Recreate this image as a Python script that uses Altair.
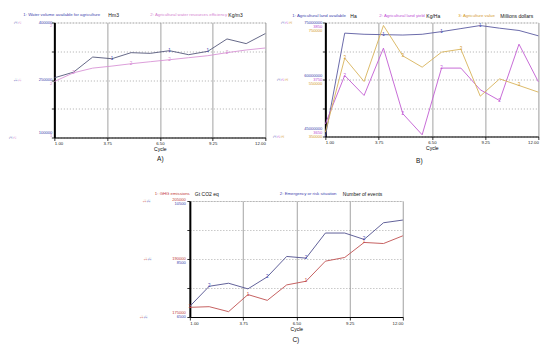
import altair as alt
import pandas as pd

FONT = "Liberation Sans"

cycles = list(range(1, 13))
x_ticks = [1, 3.75, 6.5, 9.25, 12]

# Panel A
water_volume = [255700, 270500, 309900, 305500, 321300, 319500, 326500, 316000, 324800, 357100, 344900, 371100]
water_efficiency = [246000, 268800, 281000, 286300, 292400, 297700, 302900, 308200, 313400, 321300, 328300, 333500]
a_labels_1 = ["400000", "250000", "100000"]
a_labels_2 = ["2", "2", "1"]

# Panel B
land_available = [45.0e6, 72.2e6, 71.9e6, 71.8e6, 71.7e6, 71.9e6, 72.6e6, 73.4e6, 74.2e6, 73.5e6, 72.9e6, 71.5e6]
land_yield = [3672, 3757, 3722, 3805, 3690, 3653, 3770, 3770, 3732, 3713, 3812, 3746]
agri_value = [365000, 624900, 543000, 739500, 633000, 593300, 645900, 656400, 491500, 552300, 529000, 505600]
b_labels_1 = ["75000000", "60000000", "45000000"]
b_labels_2 = ["3850", "3750", "3650"]
b_labels_3 = ["750000", "550000", "350000"]

# Panel C
ghg = [177500, 177670, 176380, 180800, 179300, 183300, 184250, 189440, 190400, 194280, 194000, 196000]
emergency = [6869, 7560, 7664, 7470, 7885, 8588, 8530, 9395, 9395, 9175, 9750, 9843]
c_labels_1 = ["205000", "190000", "175000"]
c_labels_2 = ["10500", "8500", "6500"]

BLUE_T = "#3b3fae"
PINK_T = "#d47fcf"
MAG_T = "#c04fd6"
ORG_T = "#d49a2e"
RED_T = "#c23a3a"
BLACK_T = "#111111"


def x_axis():
    return alt.Axis(values=x_ticks, format=".2f", title="Cycle", labelFontSize=4.3,
                    labelPadding=1, titleFontSize=5, titleFontWeight="normal",
                    titlePadding=1, domainColor="black", domainWidth=1,
                    tickColor="black", tickSize=3, tickWidth=0.8, grid=True,
                    gridColor="#b8b8b8", gridWidth=1.3, labelColor="#222",
                    labelFont=FONT, titleFont=FONT)


def make_panel(series, w, h, label_x, far_x, offsets, legend, legend_y, title, title_x, title_y):
    layers = []
    for k, s in enumerate(series):
        df = pd.DataFrame({"cycle": cycles, "value": s["values"]})
        d0, d1 = s["domain"]
        yscale = alt.Scale(domain=[d0, d1], nice=False, zero=False)
        if k == 0:
            yaxis = alt.Axis(values=[d0 + i * (d1 - d0) / 4 for i in range(5)], labels=False,
                             title=None, domainColor="black", domainWidth=2,
                             tickColor="black", tickSize=3, tickWidth=0.8, grid=True,
                             gridColor="#8a8a8a", gridDash=[1, 2], gridWidth=0.7)
        else:
            yaxis = None
        xenc = alt.X("cycle:Q", scale=alt.Scale(domain=[1, 12], nice=False), axis=x_axis())
        yenc = alt.Y("value:Q", scale=yscale, axis=yaxis)
        sub = [alt.Chart(df).mark_line(color=s["line"], strokeWidth=0.9).encode(x=xenc, y=yenc)]
        mk = df[df["cycle"].isin(s["markers"])]
        sub.append(alt.Chart(mk).mark_text(text=str(k + 1), fontSize=4.5, color=s["label"],
                                           font=FONT).encode(x=xenc, y=yenc))
        levels = [d1, (d0 + d1) / 2, d0]
        for i, lv in enumerate(levels):
            ldf = pd.DataFrame({"value": [lv], "text": [s["labels"][i]]})
            off = offsets[i][k]
            sub.append(alt.Chart(ldf).mark_text(align="right", baseline="middle", dy=off,
                                                fontSize=4.1, color=s["label"], font=FONT)
                       .encode(x=alt.value(label_x), y=yenc, text="text:N"))
            sub.append(alt.Chart(ldf).mark_text(align="center", baseline="middle", dy=off,
                                                angle=270, fontSize=3.6, color=s["label"],
                                                font=FONT)
                       .encode(x=alt.value(far_x), y=yenc, text=alt.value(f"{k + 1}:")))
        layers.append(alt.layer(*sub))
    one = pd.DataFrame({"k": [0]})
    texts = []
    for (lx, txt, col, fs) in legend:
        texts.append(alt.Chart(one).mark_text(align="left", baseline="middle", fontSize=fs,
                                              color=col, font=FONT)
                     .encode(x=alt.value(lx), y=alt.value(legend_y), text=alt.value(txt)))
    texts.append(alt.Chart(one).mark_text(align="center", baseline="middle", fontSize=6.5,
                                          color="#111", font=FONT)
                 .encode(x=alt.value(title_x), y=alt.value(title_y), text=alt.value(title)))
    return alt.layer(*layers, *texts).resolve_scale(y="independent").properties(width=w, height=h)


NS = 4.3  # series name font size
US = 5.0  # unit font size

legA = [(-31, "1: Water volume available for agriculture", BLUE_T, NS), (54, "Hm3", BLACK_T, US),
        (96, "2: Agricultural water resources efficiency", PINK_T, NS), (174, "Kg/m3", BLACK_T, US)]
legB = [(-33, "1: Agricultural land available", BLUE_T, NS), (25, "Ha", BLACK_T, US),
        (54, "2: Agricultural land yield", MAG_T, NS), (101, "Kg/Ha", BLACK_T, US),
        (133, "3: Agriculture value", ORG_T, NS), (175, "Millions dollars", BLACK_T, US)]
legC = [(-35, "1: GHG emissions", RED_T, NS), (5, "Gt CO2 eq", BLACK_T, US),
        (90, "2: Emergency or risk situation", BLUE_T, NS), (153, "Number of events", BLACK_T, US)]

offA = [[0, 3.5], [0, 3.5], [-5, -1.5]]
offB = [[0, 4, 8], [-4, 0, 4], [-8, -4, 0]]
offC = [[-1, 3], [0, 4], [-4, 0]]

panelA = make_panel(
    [dict(values=water_volume, domain=[100000, 400000], line="#55587a", label=BLUE_T,
          markers=[4, 7, 9], labels=a_labels_1),
     dict(values=water_efficiency, domain=[100000, 400000], line="#d894d6", label=PINK_T,
          markers=[2, 5, 7, 10], labels=a_labels_2)],
    211, 115, -2, -38, offA, legA, -8, "A)", 106, 136)

panelB = make_panel(
    [dict(values=land_available, domain=[45e6, 75e6], line="#5a5aa0", label=BLUE_T,
          markers=[4, 7, 9], labels=b_labels_1),
     dict(values=land_yield, domain=[3650, 3850], line="#c25cd2", label=MAG_T,
          markers=[2, 5, 7, 10], labels=b_labels_2),
     dict(values=agri_value, domain=[350000, 750000], line="#d8b35a", label=ORG_T,
          markers=[2, 5, 8, 11], labels=b_labels_3)],
    213, 114, -3, -42, offB, legB, -7, "B)", 94, 138)

panelC = make_panel(
    [dict(values=ghg, domain=[175000, 205000], line="#c05050", label=RED_T,
          markers=[1, 4, 7, 10], labels=c_labels_1),
     dict(values=emergency, domain=[6500, 10500], line="#50508f", label=BLUE_T,
          markers=[2, 5, 7, 10], labels=c_labels_2)],
    213, 116, -4, -44, offC, legC, -7, "C)", 106, 139)

top = alt.hconcat(panelA, panelB, spacing=4)
chart = alt.vconcat(top, panelC, spacing=26.5, center=True).properties(
    padding={"left": 0, "top": 3.5, "right": 0, "bottom": 0}
).configure_view(stroke=None).configure(font=FONT, background="white")

chart.save("out.html", embed_options={"renderer": "svg", "actions": False})
